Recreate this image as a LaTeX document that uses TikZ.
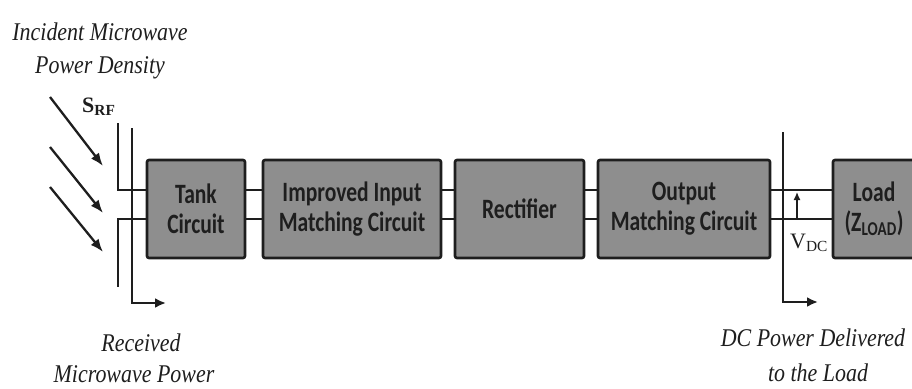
\documentclass[tikz,border=0pt]{standalone}
\usepackage{fontspec}
\setmainfont{Liberation Serif}
\newfontfamily\boxfont{Carlito}[FakeStretch=0.77]
\newfontfamily\lblfont{Liberation Serif}[FakeStretch=0.86]
\usetikzlibrary{arrows.meta,calc}
\definecolor{boxgray}{RGB}{142,142,142}
\definecolor{ink}{RGB}{30,30,30}
\begin{document}
\begin{tikzpicture}[x=1pt,y=-1pt,
  blk/.style={draw=ink, line width=2.6pt, fill=boxgray, rounded corners=2pt,
    minimum height=98pt, inner sep=0pt, align=center, text=ink,
    font=\boxfont\bfseries\fontsize{28}{30}\selectfont},
  wire/.style={draw=ink, line width=2.4pt},
  ant/.style={draw=ink, line width=2.2pt},
  ray/.style={draw=ink, line width=2.3pt, -{Latex[length=13pt,width=10pt]}},
  tip/.style={-{Latex[length=11pt,width=10pt]}},
  lbl/.style={font=\lblfont\itshape\fontsize{25.5}{35}\selectfont, anchor=base,
    inner sep=0pt, text=ink},
  sym/.style={anchor=base west, inner sep=0pt, text=ink}
]
\useasboundingbox (0,0) rectangle (912,388);
\clip (0,0) rectangle (912,388);

% blocks
\node[blk, minimum width=98pt]  (tank) at (196,209)   {Tank\\Circuit};
\node[blk, minimum width=178pt] (imp)  at (352,209)   {Improved Input\\Matching Circuit};
\node[blk, minimum width=129pt] (rect) at (519.5,209) {Rectifier};
\node[blk, minimum width=172pt] (out)  at (684,209)   {Output\\Matching Circuit};
\node[blk, minimum width=82pt]  (load) at (874,209)   {Load\\(Z\textsubscript{LOAD})};

% wire levels
\coordinate (u) at (0,190);
\coordinate (l) at (0,219);

\draw[wire] (tank.east|-u) -- (imp.west|-u);
\draw[wire] (tank.east|-l) -- (imp.west|-l);
\draw[wire] (imp.east|-u) -- (rect.west|-u);
\draw[wire] (imp.east|-l) -- (rect.west|-l);
\draw[wire] (rect.east|-u) -- (out.west|-u);
\draw[wire] (rect.east|-l) -- (out.west|-l);
\draw[wire] (out.east|-u) -- (load.west|-u);
\draw[wire] (out.east|-l) -- (load.west|-l);

% receiving antenna
\coordinate (a1top) at (118,123);
\coordinate (a1bot) at (118,287);
\coordinate (a2top) at (132,128);
\coordinate (a2bot) at (132,303);
\coordinate (a2end) at (166,303);
\draw[ant] (a1top) |- (tank.west|-u);
\draw[ant] (tank.west|-l) -| (a1bot);
\draw[ant, tip] (a2top) -- (a2bot) -- (a2end);

% incident rays
\coordinate (r1s) at (50,97);  \coordinate (r1e) at (103,166);
\coordinate (r2s) at (50,147); \coordinate (r2e) at (103,213);
\coordinate (r3s) at (50,187); \coordinate (r3e) at (103,252);
\draw[ray] (r1s) -- (r1e);
\draw[ray] (r2s) -- (r2e);
\draw[ray] (r3s) -- (r3e);

% output side
\coordinate (otop) at (783,132);
\coordinate (obot) at (783,302);
\coordinate (oend) at (818,302);
\draw[ant, tip] (otop) -- (obot) -- (oend);
\coordinate (vx) at (797,0);
\draw[draw=ink, line width=1.4pt, -{Latex[length=8pt,width=7pt]}] (vx|-l) -- ($(vx|-u)+(0,2)$);

% labels
\node[lbl] (inc) at (100,40)  {Incident Microwave};
\node[lbl] (pd)  at (100,73)  {Power Density};
\node[sym, font=\fontsize{22}{24}\selectfont\bfseries] (srf) at (82,112) {S\textsubscript{RF}};
\node[sym, font=\fontsize{22}{24}\selectfont] (vdc) at (790,248) {V\textsubscript{DC}};
\node[lbl] (rec) at (141,351) {Received};
\node[lbl] (mwp) at (134,382) {Microwave Power};
\node[lbl] (dcp) at (813,346) {DC Power Delivered};
\node[lbl] (ttl) at (818,381) {to the Load};
\end{tikzpicture}
\end{document}
